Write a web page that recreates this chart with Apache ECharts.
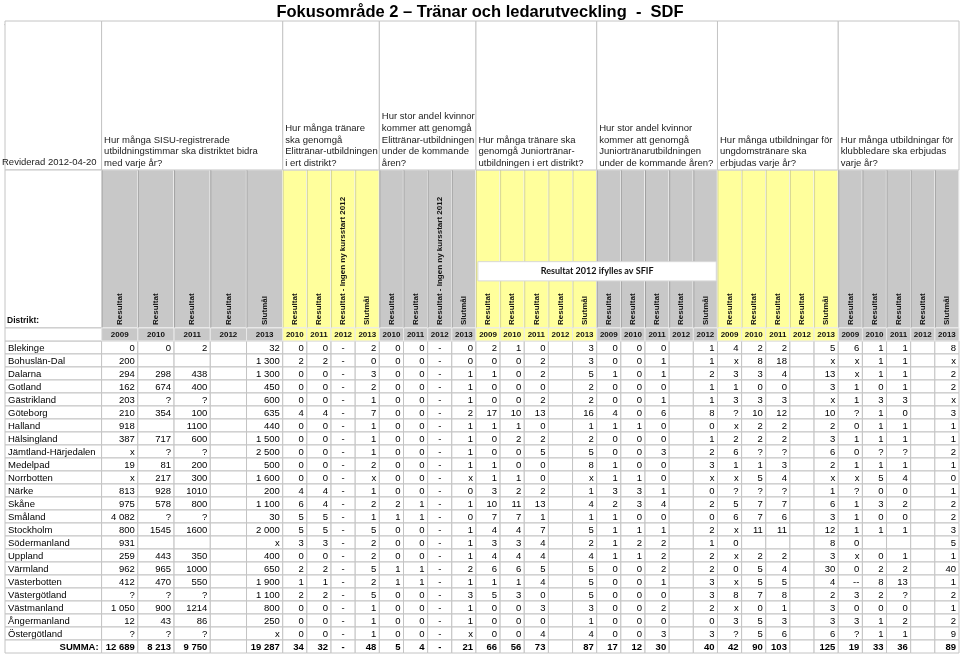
<!DOCTYPE html>
<html><head><meta charset="utf-8">
<script src="https://cdn.jsdelivr.net/npm/echarts@6/dist/echarts.min.js"></script>
<style>html,body{margin:0;padding:0;background:#fff}#c{width:960px;height:656px}</style>
</head><body><div id="c"></div>
<script>
// ---------- DATA ----------
const districts = ['Blekinge','Bohuslän-Dal','Dalarna','Gotland','Gästrikland','Göteborg','Halland','Hälsingland','Jämtland-Härjedalen','Medelpad','Norrbotten','Närke','Skåne','Småland','Stockholm','Södermanland','Uppland','Värmland','Västerbotten','Västergötland','Västmanland','Ångermanland','Östergötland','SUMMA:'];

const sisuHours = [
['0','0','2','','32'],['200','','','','1 300'],['294','298','438','','1 300'],['162','674','400','','450'],
['203','?','?','','600'],['210','354','100','','635'],['918','','1100','','440'],['387','717','600','','1 500'],
['x','?','?','','2 500'],['19','81','200','','500'],['x','217','300','','1 600'],['813','928','1010','','200'],
['975','578','800','','1 100'],['4 082','?','?','','30'],['800','1545','1600','','2 000'],['931','','','','x'],
['259','443','350','','400'],['962','965','1000','','650'],['412','470','550','','1 900'],['?','?','?','','1 100'],
['1 050','900','1214','','800'],['12','43','86','','250'],['?','?','?','','x'],['12 689','8 213','9 750','','19 287']];

const eliteCoaches = [
['0','0','-','2'],['2','2','-','0'],['0','0','-','3'],['0','0','-','2'],['0','0','-','1'],['4','4','-','7'],
['0','0','-','1'],['0','0','-','1'],['0','0','-','1'],['0','0','-','2'],['0','0','-','x'],['4','4','-','1'],
['6','4','-','2'],['5','5','-','1'],['5','5','-','5'],['3','3','-','2'],['0','0','-','2'],['2','2','-','5'],
['1','1','-','2'],['2','2','-','5'],['0','0','-','1'],['0','0','-','1'],['0','0','-','1'],['34','32','-','48']];

const eliteWomen = [
['0','0','-','0'],['0','0','-','0'],['0','0','-','1'],['0','0','-','1'],['0','0','-','1'],['0','0','-','2'],
['0','0','-','1'],['0','0','-','1'],['0','0','-','1'],['0','0','-','1'],['0','0','-','x'],['0','0','-','0'],
['2','1','-','1'],['1','1','-','0'],['0','0','-','1'],['0','0','-','1'],['0','0','-','1'],['1','1','-','2'],
['1','1','-','1'],['0','0','-','3'],['0','0','-','1'],['0','0','-','1'],['0','0','-','x'],['5','4','-','21']];

const juniorCoaches = [
['2','1','0','','3'],['0','0','2','','3'],['1','0','2','','5'],['0','0','0','','2'],['0','0','2','','2'],
['17','10','13','','16'],['1','1','0','','1'],['0','2','2','','2'],['0','0','5','','5'],['1','0','0','','8'],
['1','1','0','','x'],['3','2','2','','1'],['10','11','13','','4'],['7','7','1','','1'],['4','4','7','','5'],
['3','3','4','','2'],['4','4','4','','4'],['6','6','5','','5'],['1','1','4','','5'],['5','3','0','','5'],
['0','0','3','','3'],['0','0','0','','1'],['0','0','4','','4'],['66','56','73','','87']];

const juniorWomen = [
['0','0','0','','1'],['0','0','1','','1'],['1','0','1','','2'],['0','0','0','','1'],['0','0','1','','1'],
['4','0','6','','8'],['1','1','0','','0'],['0','0','0','','1'],['0','0','3','','2'],['1','0','0','','3'],
['1','1','0','','x'],['3','3','1','','0'],['2','3','4','','2'],['1','0','0','','0'],['1','1','1','','2'],
['1','2','2','','1'],['1','1','2','','2'],['0','0','2','','2'],['0','0','1','','3'],['0','0','0','','3'],
['0','0','2','','2'],['0','0','0','','0'],['0','0','3','','3'],['17','12','30','','40']];

const youthCourses = [
['4','2','2','','5'],['x','8','18','','x'],['3','3','4','','13'],['1','0','0','','3'],['3','3','3','','x'],
['?','10','12','','10'],['x','2','2','','2'],['2','2','2','','3'],['6','?','?','','6'],['1','1','3','','2'],
['x','5','4','','x'],['?','?','?','','1'],['5','7','7','','6'],['6','7','6','','3'],['x','11','11','','12'],
['0','','','','8'],['x','2','2','','3'],['0','5','4','','30'],['x','5','5','','4'],['8','7','8','','2'],
['x','0','1','','3'],['3','5','3','','3'],['?','5','6','','6'],['42','90','103','','125']];

const leaderCourses = [
['6','1','1','','8'],['x','1','1','','x'],['x','1','1','','2'],['1','0','1','','2'],['1','3','3','','x'],
['?','1','0','','3'],['0','1','1','','1'],['1','1','1','','1'],['0','?','?','','2'],['1','1','1','','1'],
['x','5','4','','0'],['?','0','0','','1'],['1','3','2','','2'],['1','0','0','','2'],['1','1','1','','3'],
['0','','','','5'],['x','0','1','','1'],['0','2','2','','40'],['--','8','13','','1'],['3','2','?','','2'],
['0','0','0','','1'],['3','1','2','','2'],['?','1','1','','9'],['19','33','36','','89']];

// tick labels
const headsStd = ['Resultat','Resultat','Resultat','Resultat','Slutmål'];
const headsElite = ['Resultat','Resultat','Resultat - Ingen ny kursstart 2012','Slutmål'];
const years0913 = ['2009','2010','2011','2012','2013'];
const years1013 = ['2010','2011','2012','2013'];
const years0912 = ['2009','2010','2011','2012','2012'];
const questions = [
 'Hur många SISU-registrerade\nutbildningstimmar ska distriktet bidra\nmed varje år?',
 'Hur många tränare\nska genomgå\nElittränar-utbildningen\ni ert distrikt?',
 'Hur stor andel kvinnor\nkommer att genomgå\nElittränar-utbildningen\nunder de kommande\nåren?',
 'Hur många tränare ska\ngenomgå Juniortränar-\nutbildningen i ert distrikt?',
 'Hur stor andel kvinnor\nkommer att genomgå\nJuniortränarutbildningen\nunder de kommande åren?',
 'Hur många utbildningar för\nungdomstränare ska\nerbjudas varje år?',
 'Hur många utbildningar för\nklubbledare ska erbjudas\nvarje år?'
];
const titleText = 'Fokusområde 2 – Tränar och ledarutveckling  -  SDF';
const revisedText = 'Reviderad 2012-04-20';
const districtLabel = 'Distrikt:';
const noteText = 'Resultat 2012 ifylles av SFIF';

// ---------- LAYOUT ----------
const GRAY = '#c8c8c8', YELLOW = '#ffff9c';
const groups = [
 {data: sisuHours, heads: headsStd, years: years0913, w: 1.5, color: GRAY},
 {data: eliteCoaches, heads: headsElite, years: years1013, w: 1, color: YELLOW},
 {data: eliteWomen, heads: headsElite, years: years1013, w: 1, color: GRAY},
 {data: juniorCoaches, heads: headsStd, years: years0913, w: 1, color: YELLOW},
 {data: juniorWomen, heads: headsStd, years: years0912, w: 1, color: GRAY},
 {data: youthCourses, heads: headsStd, years: years0913, w: 1, color: YELLOW},
 {data: leaderCourses, heads: headsStd, years: years0913, w: 1, color: GRAY}
];
const NAME_W = 4;
const Y_TOP = -24.61, Y_VHEAD = -13.15, Y_YEAR = -1;
const FONT = "'Liberation Sans', Arial, sans-serif";

const items = [];
items.push({kind:'plain', x0:0, x1:NAME_W, y0:Y_TOP, y1:Y_VHEAD, text: revisedText, tpos:'revised'});
items.push({kind:'plain', x0:0, x1:NAME_W, y0:Y_VHEAD, y1:Y_YEAR, text: districtLabel, tpos:'distrikt'});
items.push({kind:'plain', x0:0, x1:NAME_W, y0:Y_YEAR, y1:0, text:''});
let cx = NAME_W;
const colsAll = [];
groups.forEach((g, gi) => {
  const gx0 = cx;
  g.heads.forEach((h, j) => {
    colsAll.push({x0: cx, x1: cx + g.w, g: gi, j});
    items.push({kind:'vhead', x0: cx, x1: cx + g.w, y0: Y_VHEAD, y1: Y_YEAR, text: h, color: g.color});
    items.push({kind:'year', x0: cx, x1: cx + g.w, y0: Y_YEAR, y1: 0, text: g.years[j], color: g.color});
    cx += g.w;
  });
  items.push({kind:'question', x0: gx0, x1: cx, y0: Y_TOP, y1: Y_VHEAD, text: questions[gi]});
});
const X_MAX = cx;
items.push({kind:'box', x0: 19.58, x1: 29.45, y0: -6.1, y1: -4.62, text: noteText});

const cells = [];
districts.forEach((d, r) => {
  const sum = r === districts.length - 1;
  cells.push({x0:0, x1:NAME_W, y0:r, y1:r+1, text:d, align: sum ? 'right' : 'left', bold: sum});
  colsAll.forEach(c => {
    const t = groups[c.g].data[r][c.j];
    cells.push({x0:c.x0, x1:c.x1, y0:r, y1:r+1, text:t, align: t === '-' ? 'center' : 'right', bold: sum});
  });
});

function box(api, it) {
  const a = api.coord([it.x0, it.y0]), b = api.coord([it.x1, it.y1]);
  return {x: a[0], y: a[1], w: b[0] - a[0], h: b[1] - a[1]};
}

function renderHeader(params, api) {
  const it = items[params.dataIndex];
  const r = box(api, it);
  const ch = [];
  if (it.kind === 'plain') {
    ch.push({type:'rect', shape:{x:r.x, y:r.y, width:r.w, height:r.h}, style:{fill:'#fff', stroke:'#c4c4c4', lineWidth:1}});
    if (it.tpos === 'revised') ch.push({type:'text', x: r.x - 3, y: r.y + r.h - 8, style:{text: it.text, fill:'#222', fontSize: 9.5, fontFamily: FONT, align:'left', verticalAlign:'middle'}});
    if (it.tpos === 'distrikt') ch.push({type:'text', x: r.x + 2, y: r.y + r.h - 7, style:{text: it.text, fill:'#111', fontSize: 8.5, fontWeight:'bold', fontFamily: FONT, align:'left', verticalAlign:'middle'}});
  } else if (it.kind === 'vhead') {
    ch.push({type:'rect', shape:{x:r.x, y:r.y, width:r.w, height:r.h}, style:{fill: it.color, stroke:'#f2f2f2', lineWidth:1.2}});
    ch.push({type:'line', shape:{x1:r.x + 0.5, y1:r.y, x2:r.x + 0.5, y2:r.y + r.h}, style:{stroke: it.color === GRAY ? '#a0a0a0' : '#d8d890', lineWidth:1}});
    ch.push({type:'text', x: r.x + r.w / 2, y: r.y + r.h - 3, rotation: Math.PI / 2,
      style:{text: it.text, fill:'#111', fontSize: 8, fontWeight:'bold', fontFamily: FONT, align:'left', verticalAlign:'middle'}});
  } else if (it.kind === 'year') {
    ch.push({type:'rect', shape:{x:r.x, y:r.y, width:r.w, height:r.h}, style:{fill: it.color, stroke:'#e8e8e8', lineWidth:1}});
    ch.push({type:'text', x: r.x + r.w / 2, y: r.y + r.h / 2 + 0.5, style:{text: it.text, fill:'#111', fontSize: 8, fontWeight:'bold', fontFamily: FONT, align:'center', verticalAlign:'middle'}});
  } else if (it.kind === 'question') {
    ch.push({type:'rect', shape:{x:r.x, y:r.y, width:r.w, height:r.h}, style:{fill:'#fff', stroke:'#c4c4c4', lineWidth:1}});
    ch.push({type:'text', x: r.x + 2.5, y: r.y + r.h - 1, style:{text: it.text, fill:'#222', fontSize: 9.5, lineHeight: 11.6, fontFamily: FONT, align:'left', verticalAlign:'bottom'}});
  } else if (it.kind === 'box') {
    ch.push({type:'rect', shape:{x:r.x, y:r.y, width:r.w, height:r.h}, style:{fill:'#fff', stroke:'#d8d8d8', lineWidth:1}});
    ch.push({type:'text', x: r.x + r.w / 2, y: r.y + r.h / 2, style:{text: it.text, fill:'#111', fontSize: 9, fontWeight:'bold', fontFamily: "Lato, 'Open Sans', sans-serif", align:'center', verticalAlign:'middle'}});
  }
  return {type:'group', children: ch};
}

function renderCell(params, api) {
  const it = cells[params.dataIndex];
  const r = box(api, it);
  const ch = [{type:'rect', shape:{x:r.x, y:r.y, width:r.w, height:r.h}, style:{fill:'#fff', stroke:'#c4c4c4', lineWidth:1}}];
  if (it.text !== '') {
    let tx = it.align === 'left' ? r.x + 3 : it.align === 'right' ? r.x + r.w - 3 : r.x + r.w / 2;
    ch.push({type:'text', x: tx, y: r.y + r.h / 2 + 0.5, style:{text: it.text, fill:'#000', fontSize: 9.5, fontWeight: it.bold ? 'bold' : 'normal', fontFamily: FONT, align: it.align, verticalAlign:'middle'}});
  }
  return {type:'group', children: ch};
}

const chart = echarts.init(document.getElementById('c'), null, {renderer:'canvas'});
chart.setOption({
  animation: false,
  title: {text: titleText, left: 'center', top: -1, textStyle: {fontSize: 16.5, fontWeight: 'bold', fontFamily: FONT, color: '#000'}},
  grid: {left: 5, top: 21, width: 954, height: 632},
  xAxis: {type: 'value', min: 0, max: X_MAX, show: false},
  yAxis: {type: 'value', min: Y_TOP, max: districts.length, inverse: true, show: false},
  graphic: [{type:'text', left: 4, top: 24, style:{text:'`', fontSize: 9, fill:'#333', fontFamily: FONT}}],
  series: [
    {type: 'custom', renderItem: renderCell, data: cells.map(c => [c.x0, c.y0, c.x1, c.y1]), encode: {x: [0, 2], y: [1, 3]}, silent: true, clip: false},
    {type: 'custom', renderItem: renderHeader, data: items.map(c => [c.x0, c.y0, c.x1, c.y1]), encode: {x: [0, 2], y: [1, 3]}, silent: true, clip: false}
  ]
});
</script></body></html>
